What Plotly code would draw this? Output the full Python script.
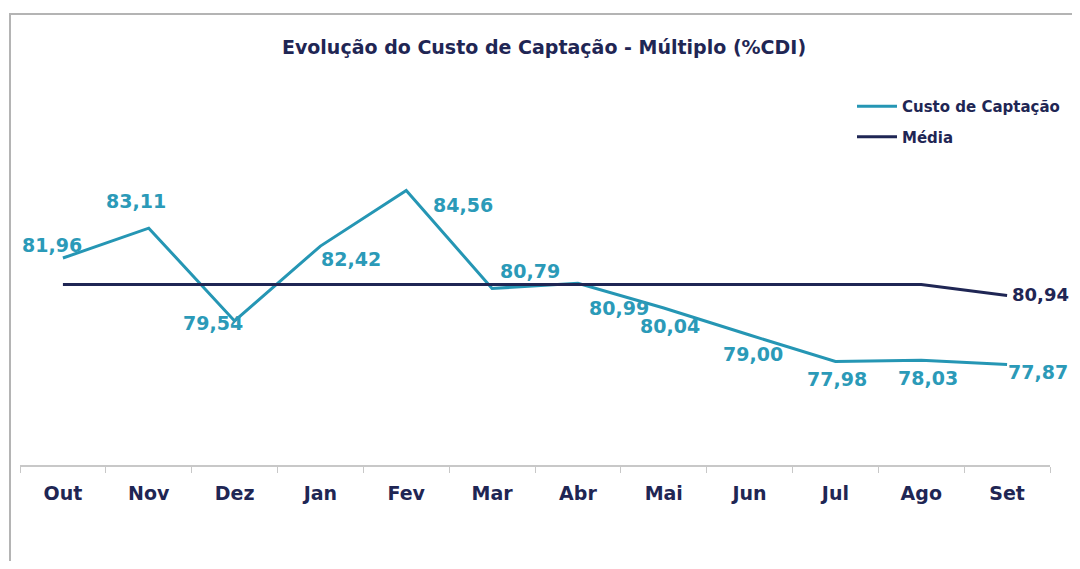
import plotly.graph_objects as go

meses = ['Out', 'Nov', 'Dez', 'Jan', 'Fev', 'Mar', 'Abr', 'Mai', 'Jun', 'Jul', 'Ago', 'Set']
custo = [81.96, 83.11, 79.54, 82.42, 84.56, 80.79, 80.99, 80.04, 79.00, 77.98, 78.03, 77.87]
media = [80.94] * 11 + [80.52]
media_label = '80,94'

teal = '#2596b4'
teal_txt = '#2b9ab8'
navy = '#1f2654'
fnt = 'DejaVu Sans'

# page body adds 8px margin: keep the figure inside the window and shift px targets by OFF
OFF = 8
W, H = 1080 - 2 * OFF, 569 - 2 * OFF
L, R, T, B = 20 - OFF, 1050 - OFF, 40 - OFF, 465 - OFF

# label offsets in px (dx, dy), dy up
offsets = [(-11, 13), (-13, 27), (-22, -2), (31, -13), (57, -15), (38, 17),
           (41, -25), (6, -18), (3, -19), (2, -17), (7, -18), (31, -8)]

fig = go.Figure()
fig.add_trace(go.Scatter(x=meses, y=custo, mode='lines', name='Custo de Captação',
                         line=dict(color=teal, width=3), legendgroup='a'))
fig.add_trace(go.Scatter(x=meses, y=media, mode='lines', name='Média',
                         line=dict(color=navy, width=3), legendgroup='b'))

for m, v, (dx, dy) in zip(meses, custo, offsets):
    fig.add_annotation(x=m, y=v, text=f'{v:.2f}'.replace('.', ','), showarrow=False,
                       xshift=dx, yshift=dy,
                       font=dict(family=fnt, size=19, color=teal_txt, weight='bold'))
fig.add_annotation(x=meses[-1], y=media[-1], text=media_label, showarrow=False,
                   xanchor='left', xshift=3, yshift=1,
                   font=dict(family=fnt, size=18, color=navy, weight='bold'))

# outer frame
fig.add_shape(type='rect', xref='paper', yref='paper',
              x0=(10 - OFF - L) / (R - L), x1=1.2, y0=-1.0, y1=(B - (14 - OFF)) / (B - T),
              line=dict(color='#b4b4b4', width=2), layer='below')

fig.update_layout(
    width=W, height=H,
    margin=dict(l=L, r=W - R, t=T, b=H - B, autoexpand=False),
    paper_bgcolor='white', plot_bgcolor='rgba(0,0,0,0)',
    title=dict(text='Evolução do Custo de Captação - Múltiplo (%CDI)', x=(544 - OFF) / W, xanchor='center',
               y=1 - (47 - OFF) / H, yanchor='middle',
               font=dict(family=fnt, size=19, color=navy, weight='bold')),
    legend=dict(x=(852 - OFF - L) / (R - L), y=(B - (90 - OFF)) / (B - T),
                xanchor='left', yanchor='top', tracegroupgap=8, itemwidth=40,
                font=dict(family=fnt, size=15, color=navy, weight='bold'),
                bgcolor='rgba(0,0,0,0)'),
    showlegend=True,
)
fig.update_xaxes(type='category', range=[-0.5, 11.5], showline=True, linecolor='#c8c8c8', linewidth=1.5,
                 ticks='outside', tickson='boundaries', ticklen=6, tickcolor='#c8c8c8',
                 showgrid=False, ticklabelstandoff=10,
                 tickfont=dict(family=fnt, size=19, color=navy, weight='bold'))
fig.update_yaxes(range=[74, 74 + (B - T) / 26.0], visible=False, showgrid=False, zeroline=False)

fig.write_html('out.html')
